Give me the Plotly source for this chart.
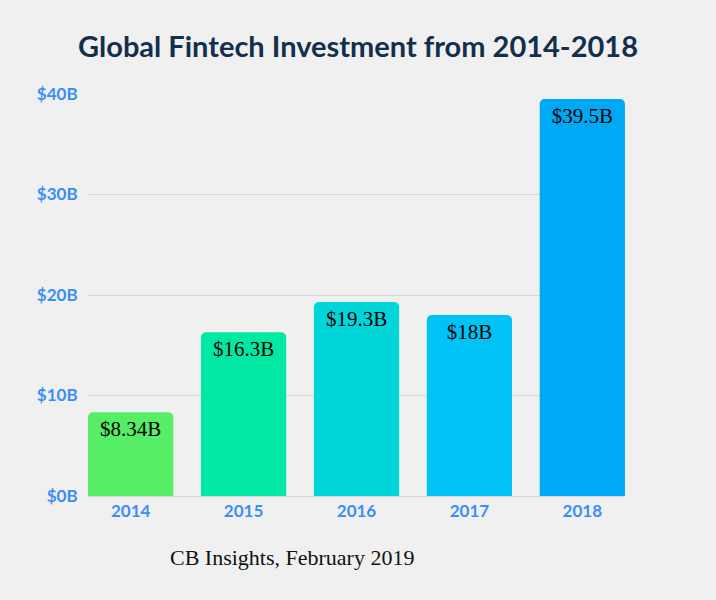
import plotly.graph_objects as go

years = ["2014", "2015", "2016", "2017", "2018"]
investment = [8.34, 16.3, 19.3, 18.0, 39.5]
bar_labels = ["$8.34B", "$16.3B", "$19.3B", "$18B", "$39.5B"]
bar_colors = ["#55EE66", "#00E8A2", "#00D6DA", "#00C3F5", "#00A9F5"]
y_ticks = [0, 10, 20, 30, 40]
y_tick_labels = ["$0B", "$10B", "$20B", "$30B", "$40B"]

tick_font = dict(family="Lato", size=17, color="#3A8EF6", weight="bold")

fig = go.Figure(go.Bar(
    x=years, y=investment,
    text=bar_labels,
    textposition="inside",
    insidetextanchor="end",
    textfont=dict(family="Liberation Serif", size=21, color="black"),
    constraintext="none",
    marker=dict(color=bar_colors, cornerradius=5, line=dict(width=0)),
    width=0.755,
    hoverinfo="x+y",
))

fig.update_layout(
    width=716, height=600,
    paper_bgcolor="#F0F0F0", plot_bgcolor="#F0F0F0",
    margin=dict(l=88, r=91, t=94, b=104),
    showlegend=False,
    title=dict(
        text="Global Fintech Investment from 2014-2018",
        x=0.5, xanchor="center", y=0.922, yanchor="middle",
        font=dict(family="Lato", size=29, color="#12304D", weight="bold"),
    ),
    xaxis=dict(
        type="category", range=[-0.378, 4.378],
        showgrid=False, showline=True, linecolor="#D8D8D8", linewidth=1,
        ticks="", tickfont=tick_font,
    ),
    yaxis=dict(
        range=[0, 40], tickvals=y_ticks, ticktext=y_tick_labels,
        showgrid=True, gridcolor="#D8D8D8", gridwidth=1, zeroline=False,
        ticks="outside", ticklen=6, tickcolor="rgba(0,0,0,0)",
        tickfont=tick_font,
    ),
    annotations=[dict(
        text="CB Insights, February 2019",
        xref="paper", yref="paper", x=0.38, y=-0.152,
        xanchor="center", yanchor="middle", showarrow=False,
        font=dict(family="Liberation Serif", size=22, color="#111111"),
    )],
)

fig.write_html("out.html", config={"displayModeBar": False},
               post_script="document.body.style.margin='0';")
